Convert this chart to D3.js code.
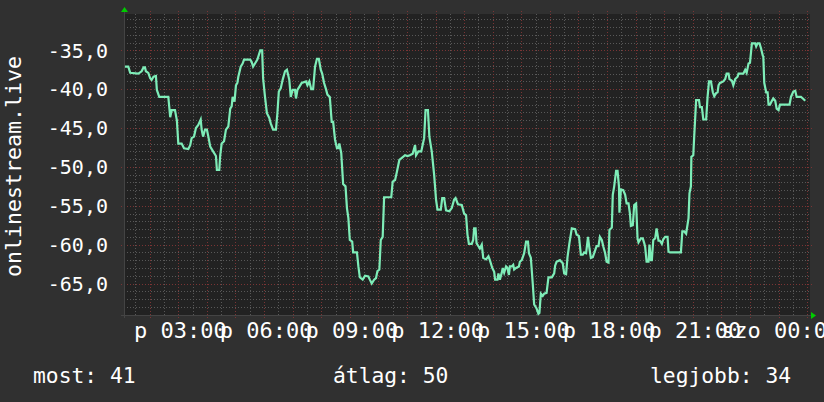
<!DOCTYPE html>
<html><head><meta charset="utf-8">
<script src="https://cdn.jsdelivr.net/npm/d3@7"></script>
<style>
html,body{margin:0;padding:0;background:#303030;}
svg{display:block;}
text{font-family:"DejaVu Sans Mono",monospace;fill:#ffffff;}
</style></head>
<body>
<svg id="c" width="824" height="402"></svg>
<script>
// time in minutes since midnight (first day), value
const readings = [
[68,-37.1],[75,-37.1],[79,-37.9],[96,-38.0],[103,-37.7],[107,-37.2],[110,-37.2],[112,-37.7],[117,-37.9],[121,-38.6],
[124,-38.8],[128,-38.4],[133,-38.3],[135,-40.1],[140,-41.0],[159,-41.0],[163,-43.6],[166,-42.7],[173,-42.7],[177,-44.0],
[180,-47.0],[187,-47.0],[192,-47.6],[201,-47.7],[205,-47.2],[208,-46.3],[213,-46.1],[217,-45.0],[222,-44.6],[227,-43.9],
[229,-45.2],[232,-46.1],[236,-45.2],[240,-45.2],[243,-46.1],[247,-47.4],[253,-48.0],[259,-48.6],[261,-50.4],[266,-50.4],
[268,-48.5],[271,-47.0],[276,-46.7],[280,-45.2],[285,-44.8],[289,-42.5],[292,-42.2],[294,-41.0],[298,-41.6],[301,-39.5],
[304,-39.2],[306,-38.4],[311,-37.1],[315,-36.7],[318,-36.2],[331,-36.2],[334,-36.5],[337,-37.1],[341,-36.7],[346,-36.2],
[352,-35.0],[356,-35.0],[358,-38.6],[362,-41.0],[366,-43.1],[371,-43.7],[374,-44.4],[379,-45.2],[385,-45.2],[388,-43.1],
[391,-40.3],[395,-39.9],[399,-38.8],[404,-37.7],[408,-37.5],[413,-38.8],[416,-41.0],
[420,-40.1],[425,-40.1],[427,-41.2],[430,-40.1],[434,-39.7],[439,-39.2],[448,-39.0],[451,-39.5],[455,-39.0],[459,-40.0],
[463,-40.0],[467,-37.1],[471,-36.1],[475,-36.1],[479,-37.5],[482,-38.0],[486,-39.2],[490,-40.0],[493,-40.7],[498,-41.0],
[502,-44.2],[505,-44.2],[509,-46.5],[513,-47.6],[516,-47.6],[518,-47.0],[522,-48.2],[526,-52.2],[531,-52.5],[534,-55.3],
[537,-56.6],[540,-59.4],[545,-59.6],[547,-61.0],[555,-61.0],[558,-62.8],[561,-64.2],[567,-64.5],[572,-64.0],[579,-64.1],
[582,-64.5],[586,-65.0],[591,-64.5],[595,-64.3],[598,-63.4],[602,-63.2],[605,-59.4],[609,-59.0],[612,-53.9],[627,-53.9],
[630,-51.9],[635,-51.7],[639,-50.6],[644,-49.1],[648,-48.9],[656,-48.5],[661,-48.6],[666,-48.5],[672,-48.3],[677,-47.2],
[679,-48.5],[684,-48.0],[690,-48.0],[696,-46.3],[699,-42.7],[704,-42.7],[707,-46.1],[712,-48.0],[717,-51.0],[721,-54.2],
[724,-55.5],[731,-55.5],[734,-54.0],[738,-54.0],[742,-55.6],[749,-55.7],[754,-55.3],[759,-54.2],[762,-54.0],[767,-54.8],
[775,-54.9],
[780,-56.0],[784,-56.2],[787,-58.7],[790,-59.9],[796,-59.9],[799,-59.4],[801,-57.9],[804,-57.9],[806,-59.8],[810,-60.2],
[813,-60.5],[817,-60.0],[819,-61.1],[820,-61.7],[826,-61.9],[831,-61.5],[834,-62.0],[839,-63.0],[843,-63.5],[845,-64.5],
[850,-64.5],[852,-63.7],[855,-64.5],[859,-63.6],[861,-63.0],[864,-63.6],[868,-62.8],[871,-63.0],[874,-63.9],[876,-62.8],
[880,-62.8],[883,-62.6],[885,-63.2],[889,-63.0],[895,-62.8],[897,-62.2],[901,-62.0],[906,-61.1],[910,-59.6],[914,-59.6],
[916,-61.1],[920,-61.7],[924,-65.0],[927,-67.7],[932,-68.2],[936,-68.9],[938,-68.8],[941,-66.3],[945,-66.6],[948,-66.3],
[953,-66.2],[957,-64.2],[964,-64.2],[969,-63.7],[971,-62.7],[974,-62.2],[981,-62.0],[987,-62.4],[990,-63.7],[994,-63.8],
[997,-61.6],[1001,-59.8],[1006,-57.9],[1013,-58.0],[1016,-58.7],[1021,-58.9],[1025,-61.3],[1029,-61.3],[1032,-61.0],[1036,-61.1],
[1040,-59.0],[1043,-60.5],[1046,-61.7],[1050,-61.6],[1053,-61.1],[1058,-60.2],[1062,-60.2],[1065,-59.0],[1069,-59.4],[1072,-60.2],
[1076,-61.1],[1079,-62.2],[1083,-62.3],[1085,-58.1],[1090,-57.8],[1092,-53.6],[1095,-52.5],[1099,-50.5],[1102,-50.5],[1105,-52.5],
[1106,-55.9],[1109,-52.9],[1114,-53.0],[1118,-53.6],[1121,-54.7],[1125,-54.7],[1128,-56.0],[1130,-57.6],[1134,-57.5],[1137,-54.9],
[1141,-54.7],[1144,-59.2],[1146,-59.7],[1151,-59.2],[1155,-59.2],[1158,-59.8],[1160,-60.3],[1163,-62.2],[1167,-62.2],[1169,-60.0],
[1172,-62.0],[1174,-62.0],[1177,-59.4],[1181,-59.2],[1184,-57.9],[1188,-59.5],[1191,-59.5],[1195,-59.9],[1198,-59.3],[1202,-59.0],
[1207,-59.0],[1209,-60.9],[1212,-61.0],[1235,-61.0],[1238,-58.3],[1242,-58.3],[1246,-58.6],[1251,-56.6],[1253,-53.4],[1256,-52.5],
[1257,-48.7],[1261,-48.5],[1263,-46.0],[1267,-41.4],[1273,-41.4],[1275,-42.3],[1279,-42.3],[1282,-43.9],[1288,-43.9],[1291,-41.0],
[1294,-39.0],[1298,-39.0],[1302,-40.4],[1305,-40.9],[1309,-40.5],[1312,-40.4],[1314,-39.5],[1317,-39.2],[1324,-39.0],[1328,-38.7],
[1331,-38.0],[1335,-38.0],[1337,-38.7],[1342,-38.9],[1345,-39.5],[1349,-38.7],[1354,-38.4],[1356,-38.0],[1366,-38.0],[1370,-37.5],
[1373,-37.9],[1377,-36.7],[1380,-36.6],[1384,-34.1],[1391,-34.1],[1393,-34.5],[1396,-34.1],[1400,-34.1],[1403,-34.7],[1407,-35.7],
[1408,-35.8],[1410,-39.2],[1414,-40.4],[1417,-40.4],[1419,-42.0],[1422,-42.0],[1426,-41.5],[1429,-41.2],[1433,-41.5],[1436,-42.5],
[1440,-42.7],[1443,-42.0],[1463,-42.0],[1466,-41.0],[1471,-40.3],[1475,-40.2],[1478,-41.0],[1487,-41.0],[1491,-41.2],[1496,-41.5]
];
const timeRange = [66, 1506];
const valueRange = [-69.05, -30.33];
const yTickValues = [-65, -60, -55, -50, -45, -40, -35];
const xLabelTimes = [180, 360, 540, 720, 900, 1080, 1260, 1440];
const xLabelTexts = ["p 03:00", "p 06:00", "p 09:00", "p 12:00", "p 15:00", "p 18:00", "p 21:00", "szo 00:00"];
const yTitle = "onlinestream.live";
const legendItems = [["most: 41", 33], ["átlag: 50", 333], ["legjobb: 34", 650]];

const svg = d3.select("#c");
const L = 124, R = 810, T = 14, B = 315;
const x = d3.scaleLinear().domain(timeRange).range([L, R]);
const y = d3.scaleLinear().domain(valueRange).range([B, T]);

svg.append("rect").attr("x", 0).attr("y", 0).attr("width", 824).attr("height", 402).attr("fill", "#303030");
svg.append("rect").attr("x", L).attr("y", T).attr("width", R - L).attr("height", B - T).attr("fill", "#222222");

const grid = svg.append("g").attr("shape-rendering", "crispEdges");
const hMinor = d3.range(Math.ceil(valueRange[0]), Math.floor(valueRange[1]) + 1).filter(v => v % 5 !== 0);
grid.selectAll(".hm").data(hMinor).join("line")
  .attr("x1", L).attr("x2", R).attr("y1", d => Math.round(y(d)) + 0.5).attr("y2", d => Math.round(y(d)) + 0.5)
  .attr("stroke", "#585858").attr("stroke-dasharray", "1,2");
const vMinor = d3.range(Math.ceil(timeRange[0] / 30) * 30, timeRange[1], 30).filter(t => t % 60 !== 0);
grid.selectAll(".vm").data(vMinor).join("line")
  .attr("y1", T).attr("y2", B).attr("x1", d => Math.round(x(d)) + 0.5).attr("x2", d => Math.round(x(d)) + 0.5)
  .attr("stroke", "#585858").attr("stroke-dasharray", "1,2");
const hMajor = d3.range(Math.ceil(valueRange[0]), Math.floor(valueRange[1]) + 1).filter(v => v % 5 === 0);
grid.selectAll(".hM").data(hMajor).join("line")
  .attr("x1", L - 3).attr("x2", R + 3).attr("y1", d => Math.round(y(d)) + 0.5).attr("y2", d => Math.round(y(d)) + 0.5)
  .attr("stroke", "#7a3434").attr("stroke-dasharray", "1,2");
const vMajor = d3.range(Math.ceil(timeRange[0] / 60) * 60, timeRange[1], 60);
grid.selectAll(".vM").data(vMajor).join("line")
  .attr("y1", T - 3).attr("y2", B + 3).attr("x1", d => Math.round(x(d)) + 0.5).attr("x2", d => Math.round(x(d)) + 0.5)
  .attr("stroke", "#7a3434").attr("stroke-dasharray", "1,2");

svg.append("line").attr("x1", L - 3).attr("x2", R + 3).attr("y1", B + 0.5).attr("y2", B + 0.5).attr("stroke", "#444");
svg.append("line").attr("x1", L + 0.5).attr("x2", L + 0.5).attr("y1", T - 3).attr("y2", B + 3).attr("stroke", "#444");
svg.append("path").attr("d", `M${L - 3},${T - 2}L${L + 4},${T - 2}L${L + 0.5},${T - 7}Z`).attr("fill", "#00cc00");
svg.append("path").attr("d", `M${R + 1},${B - 3}L${R + 1},${B + 4}L${R + 6},${B + 0.5}Z`).attr("fill", "#00cc00");

const line = d3.line().x(d => x(d[0])).y(d => y(d[1]));
svg.append("path").datum(readings).attr("d", line).attr("fill", "none")
  .attr("stroke", "#7eedb8").attr("stroke-width", 2.2).attr("stroke-linejoin", "miter");

svg.selectAll(".yl").data(yTickValues).join("text")
  .attr("x", 108).attr("y", d => y(d)).attr("dy", "0.36em").attr("text-anchor", "end")
  .attr("font-size", 20).text(d => d3.format(".1f")(d).replace("−", "-").replace(".", ","));

svg.selectAll(".xl").data(xLabelTimes).join("text")
  .attr("x", d => x(d) + 2).attr("y", 338).attr("text-anchor", "middle")
  .attr("font-size", 22).text((d, i) => xLabelTexts[i]);

svg.append("text").attr("transform", `translate(21,${(T + B) / 2 + 2}) rotate(-90)`)
  .attr("text-anchor", "middle").attr("font-size", 21.6).text(yTitle);

svg.selectAll(".lg").data(legendItems).join("text")
  .attr("x", d => d[1]).attr("y", 383).attr("font-size", 21.3).text(d => d[0]);
</script>
</body></html>
